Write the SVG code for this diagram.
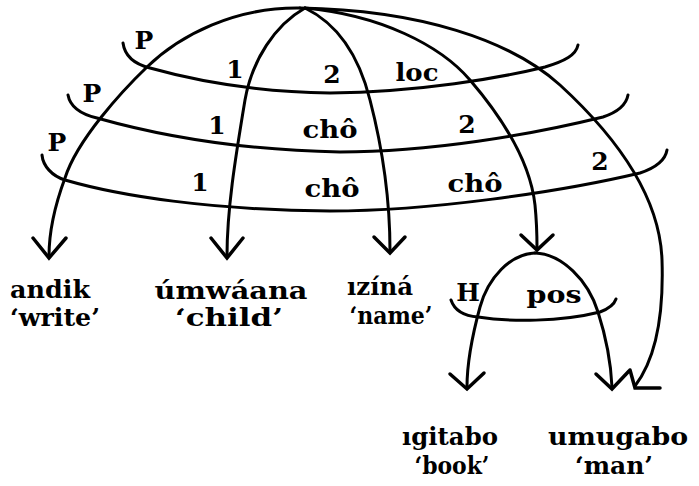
<svg xmlns="http://www.w3.org/2000/svg" width="699" height="486" viewBox="0 0 699 486">
<style>
.ln{fill:none;stroke:#000;stroke-width:3;stroke-linecap:round;stroke-linejoin:round}
.ah{fill:none;stroke:#000;stroke-width:3.5;stroke-linecap:round;stroke-linejoin:miter}
text{font-family:"DejaVu Serif","Liberation Serif",serif;font-weight:bold;font-size:25px;fill:#000;text-anchor:middle}
</style>
<rect width="699" height="486" fill="#fff"/>
<g id="connectors">
  <path class="ln" d="M300,8 C235,7 180,35 147,67 C122,91 77,140 65,178 C55,205 49,230 49,256"/>
  <path class="ln" d="M305,8 C275,25 252,60 245,100 C235,160 227,210 227,256"/>
  <path class="ln" d="M305,8 C340,25 360,60 370,100 C383,150 390,200 390,251"/>
  <path class="ln" d="M305,8 C380,15 440,45 470,80 C500,115 530,160 535,205 C537,225 537,240 537,248"/>
  <path class="ln" d="M300,8 C420,10 510,40 560,85 C620,140 660,200 662,260 C664,320 655,360 635,386"/>
  <path class="ln" d="M123,43 C125,58 138,65 150,68 C200,82 260,92 330,93 C420,92 500,78 545,67 C565,61 576,55 578,45"/>
  <path class="ln" d="M68,95 C70,106 80,114 97,118 C150,133 230,150 340,152 C430,152 530,135 603,117 C615,113 626,106 628,95"/>
  <path class="ln" d="M42,155 C43,166 52,176 65,180 C120,196 210,210 330,211 C430,211 560,192 640,173 C652,169 665,162 667,150"/>
  <path class="ln" d="M535,253 C510,254 488,278 480,307 C471,340 467,365 467,387"/>
  <path class="ln" d="M535,253 C562,254 588,280 598,312 C607,340 611,365 612,387"/>
  <path class="ln" d="M451,300 C455,312 465,316 478,317 C510,322 560,322 600,312 C608,309 614,305 616,299"/>
  <path class="ah" d="M33,238 L49,258 L66,238"/>
  <path class="ah" d="M211,238 L227,258 L243,238"/>
  <path class="ah" d="M374,237 L390,253 L405,237"/>
  <path class="ah" d="M521,235 L537,250 L553,235"/>
  <path class="ah" d="M450,374 L467,389 L484,373"/>
  <path class="ah" d="M596,374 L612,389 L629,371"/>
  <path class="ah" d="M630,370 L635,388 L660,388"/>
</g>
<g id="edge-labels">
  <text x="144" y="49">P</text>
  <text x="92" y="102">P</text>
  <text x="57" y="151">P</text>
  <text x="235" y="78">1</text>
  <text x="217" y="134">1</text>
  <text x="200" y="191">1</text>
  <text x="332" y="83">2</text>
  <text x="467" y="133">2</text>
  <text x="600" y="170">2</text>
  <text x="417" y="81" textLength="43" lengthAdjust="spacingAndGlyphs">loc</text>
  <text x="330" y="138" textLength="55" lengthAdjust="spacingAndGlyphs">chô</text>
  <text x="332" y="197" textLength="55" lengthAdjust="spacingAndGlyphs">chô</text>
  <text x="475" y="192" textLength="55" lengthAdjust="spacingAndGlyphs">chô</text>
  <text x="468" y="301">H</text>
  <text x="554" y="303" textLength="55" lengthAdjust="spacingAndGlyphs">pos</text>
</g>
<g id="node-andik">
  <text x="50" y="298" textLength="80" lengthAdjust="spacingAndGlyphs">andik</text>
  <text x="55" y="326" textLength="90" lengthAdjust="spacingAndGlyphs">‘write’</text>
</g>
<g id="node-umwaana">
  <text x="231" y="299" textLength="153" lengthAdjust="spacingAndGlyphs">úmwáana</text>
  <text x="229" y="326" textLength="108" lengthAdjust="spacingAndGlyphs">‘child’</text>
</g>
<g id="node-izina">
  <text x="380" y="295" textLength="66" lengthAdjust="spacingAndGlyphs">ızíná</text>
  <text x="391" y="324" textLength="83" lengthAdjust="spacingAndGlyphs">‘name’</text>
</g>
<g id="node-igitabo">
  <text x="450" y="445" textLength="96" lengthAdjust="spacingAndGlyphs">ıgitabo</text>
  <text x="452" y="474" textLength="75" lengthAdjust="spacingAndGlyphs">‘book’</text>
</g>
<g id="node-umugabo">
  <text x="618" y="445" textLength="140" lengthAdjust="spacingAndGlyphs">umugabo</text>
  <text x="614" y="474" textLength="78" lengthAdjust="spacingAndGlyphs">‘man’</text>
</g>
</svg>
